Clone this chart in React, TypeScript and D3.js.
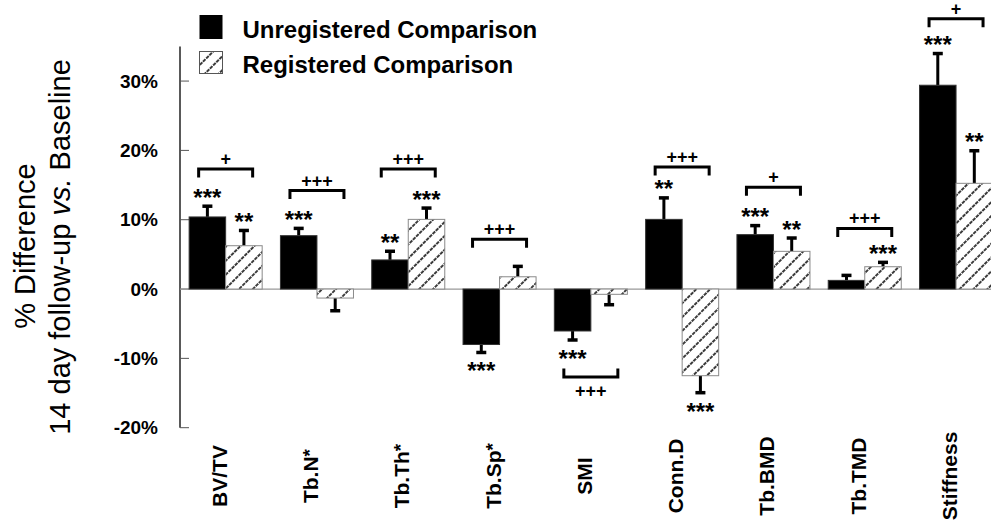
import React from "react";
import * as d3 from "d3";

const categories = ["BV/TV", "Tb.N*", "Tb.Th*", "Tb.Sp*", "SMI", "Conn.D", "Tb.BMD", "Tb.TMD", "Stiffness"];
const unregistered = [10.4, 7.7, 4.2, -8.0, -6.05, 10.05, 7.85, 1.25, 29.4];
const unregisteredErr = [1.55, 1.05, 1.25, 1.15, 1.3, 3.1, 1.3, 0.72, 4.57];
const registered = [6.25, -1.3, 10.05, 1.77, -0.76, -12.5, 5.44, 3.22, 15.25];
const registeredErr = [2.2, 1.83, 1.63, 1.5, 1.5, 2.45, 1.92, 0.63, 4.7];
const unregisteredSig = ["***", "***", "**", "***", "***", "**", "***", "", "***"];
const registeredSig = ["**", "", "***", "", "", "***", "**", "***", "**"];
const bracketLabels = ["+", "+++", "+++", "+++", "+++", "+++", "+", "+++", "+"];
const bracketLevels = [17.3, 14.2, 17.3, 7.2, -12.7, 17.6, 14.7, 8.75, 39.0];
const yTicks = [-20, -10, 0, 10, 20, 30];
const seriesNames = ["Unregistered Comparison", "Registered Comparison"];

const W = 991;
const H = 521;
const FONT = "Liberation Sans, Arial, Helvetica, sans-serif";

export default function App() {
  const x = d3
    .scaleBand<string>()
    .domain(categories)
    .range([180, 180 + 9 * 91.3])
    .paddingInner(0.2)
    .paddingOuter(0.1);
  const y = d3.scaleLinear().domain([-20, 35]).range([427.7, 46.4]);
  const bw = x.bandwidth() / 2;

  const renderBar = (i: number, series: number) => {
    const cat = categories[i];
    const v = series === 0 ? unregistered[i] : registered[i];
    const e = series === 0 ? unregisteredErr[i] : registeredErr[i];
    const sig = series === 0 ? unregisteredSig[i] : registeredSig[i];
    const x0 = (x(cat) as number) + series * bw;
    const cx = x0 + bw / 2;
    const top = y(Math.max(0, v));
    const bot = y(Math.min(0, v));
    const errEnd = v >= 0 ? y(v + e) : y(v - e);
    const barEnd = v >= 0 ? top : bot;
    const starY = v >= 0 ? errEnd - 0.5 : errEnd + 27;
    return (
      <g key={`b${series}-${i}`}>
        <line x1={cx} x2={cx} y1={barEnd} y2={errEnd} stroke="#000" strokeWidth={3} />
        <line x1={cx - 5} x2={cx + 5} y1={errEnd} y2={errEnd} stroke="#000" strokeWidth={3.5} />
        <rect
          x={x0}
          y={top}
          width={bw}
          height={Math.max(0.5, bot - top)}
          fill={series === 0 ? "#000" : "url(#hatch)"}
          stroke={series === 0 ? "#333" : "#8a8a8a"}
          strokeWidth={1}
        />
        {sig && (
          <text x={cx} y={starY} textAnchor="middle" fontFamily={FONT} fontWeight="bold" fontSize={24} fill="#000">
            {sig}
          </text>
        )}
      </g>
    );
  };

  const renderBracket = (i: number) => {
    const cat = categories[i];
    const c = (x(cat) as number) + x.bandwidth() / 2;
    const ly = y(bracketLevels[i]);
    const below = bracketLevels[i] < 0;
    const tick = below ? -8.5 : 8.5;
    const half = 27;
    const d = `M${c - half},${ly + tick} L${c - half},${ly} L${c + half},${ly} L${c + half},${ly + tick}`;
    return (
      <g key={`br${i}`}>
        <path d={d} fill="none" stroke="#000" strokeWidth={3} strokeLinejoin="miter" />
        <text
          x={c}
          y={below ? ly + 20 : ly - 4}
          textAnchor="middle"
          fontFamily={FONT}
          fontWeight="bold"
          fontSize={18}
          fill="#000"
        >
          {bracketLabels[i]}
        </text>
      </g>
    );
  };

  const renderLabel = (cat: string, i: number) => {
    const c = (x(cat) as number) + x.bandwidth() / 2 + 1;
    const hasStar = cat.endsWith("*");
    const base = hasStar ? cat.slice(0, -1) : cat;
    return (
      <text
        key={`l${i}`}
        transform={`translate(${c},476) rotate(-90)`}
        textAnchor="middle"
        fontFamily={FONT}
        fontWeight="bold"
        fontSize={21}
        fill="#000"
      >
        {base}
        {hasStar && (
          <tspan dy={-2} fontSize={19}>
            *
          </tspan>
        )}
      </text>
    );
  };

  return (
    <svg
      width={W}
      height={H}
      viewBox={`0 0 ${W} ${H}`}
      style={{ position: "absolute", left: 0, top: 0, background: "#fff" }}
    >
      <defs>
        <pattern id="hatch" patternUnits="userSpaceOnUse" width={9.8} height={4.5} patternTransform="rotate(45)">
          <rect width={9.8} height={4.5} fill="#fff" />
          <line x1={1} x2={1} y1={0} y2={4.5} stroke="#000" strokeWidth={1.5} strokeDasharray="3.5 1" />
        </pattern>
      </defs>
      <rect width={W} height={H} fill="#fff" />

      {/* y axis title */}
      <text
        transform="translate(35,246) rotate(-90)"
        textAnchor="middle"
        fontFamily={FONT}
        fontSize={29}
        fill="#000"
      >
        % Difference
      </text>
      <text
        transform="translate(70,247) rotate(-90)"
        textAnchor="middle"
        fontFamily={FONT}
        fontSize={29}
        fill="#000"
      >
        14 day follow-up <tspan fontStyle="italic">vs.</tspan> Baseline
      </text>

      {/* y axis */}
      <line x1={180} x2={180} y1={y(35)} y2={y(-20)} stroke="#222" strokeWidth={1.5} />
      {yTicks.map((t) => (
        <g key={`t${t}`}>
          <line x1={180} x2={189} y1={y(t)} y2={y(t)} stroke="#555" strokeWidth={1} />
          <text
            x={158}
            y={y(t) + 6.7}
            textAnchor="end"
            fontFamily={FONT}
            fontWeight="bold"
            fontSize={19}
            fill="#000"
          >
            {`${t}%`}
          </text>
        </g>
      ))}

      {/* zero line */}
      <line x1={180} x2={W} y1={y(0)} y2={y(0)} stroke="#999" strokeWidth={1.2} />

      {categories.map((_, i) => (
        <g key={`g${i}`}>
          {renderBar(i, 0)}
          {renderBar(i, 1)}
        </g>
      ))}
      {categories.map((_, i) => renderBracket(i))}
      {categories.map((c, i) => renderLabel(c, i))}

      {/* legend */}
      <rect x={199.5} y={15} width={23} height={24} fill="#000" />
      <rect x={199.5} y={51.5} width={23} height={22} fill="url(#hatch)" stroke="#555" strokeWidth={1} />
      <text x={242.5} y={37.7} fontFamily={FONT} fontWeight="bold" fontSize={24} fill="#000">
        {seriesNames[0]}
      </text>
      <text x={242.5} y={73.3} fontFamily={FONT} fontWeight="bold" fontSize={24} fill="#000">
        {seriesNames[1]}
      </text>
    </svg>
  );
}
